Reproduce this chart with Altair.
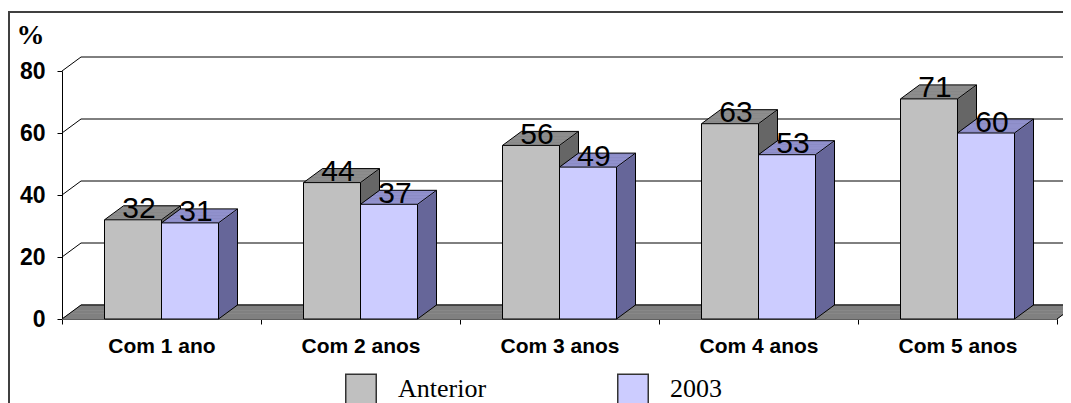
import altair as alt
import pandas as pd

# ---- data ----
categories = ["Com 1 ano", "Com 2 anos", "Com 3 anos", "Com 4 anos", "Com 5 anos"]
series_names = ["Anterior", "2003"]
anterior = [32, 44, 56, 63, 71]
ano_2003 = [31, 37, 49, 53, 60]
y_ticks = [0, 20, 40, 60, 80]

# ---- layout / style ----
W, H = 995, 248
PAD = {"left": 54, "top": 63, "right": 6, "bottom": 84}
BAR_W = 57
DX, DY = 19, 14          # 3-D depth in pixels
N = 19                   # extrusion steps
SX, SY = DX / N, DY / N

front_colors = ["#C0C0C0", "#CCCCFF"]
top_colors = ["#979797", "#9C9CDA"]
side_colors = ["#666666", "#666699"]
shifts = [-BAR_W / 2, BAR_W / 2]
FLOOR = "#808080"

rows = []
for s, vals in zip(series_names, [anterior, ano_2003]):
    for c, v in zip(categories, vals):
        rows.append({"categoria": c, "serie": s, "valor": v})
df = pd.DataFrame(rows)
grid_df = pd.DataFrame({"v": y_ticks})
zero_df = pd.DataFrame({"v": [0]})

y_scale = alt.Scale(domain=[0, 80], nice=False, zero=True)
x_enc = alt.X(
    "categoria:N",
    sort=categories,
    scale=alt.Scale(paddingInner=0, paddingOuter=0),
    axis=alt.Axis(
        title=None, labelAngle=0, tickBand="extent", tickSize=5,
        labelPadding=11, labelFont="Liberation Sans", labelFontWeight="bold",
        labelFontSize=21, labelColor="black", domainColor="black",
        tickColor="black", grid=False,
    ),
)
y_enc = alt.Y(
    "valor:Q",
    scale=y_scale,
    axis=alt.Axis(
        values=y_ticks, title="%", titleAngle=0, titleX=-46, titleY=-28,
        titleAlign="left", titleBaseline="alphabetic",
        titleFont="Liberation Serif", titleFontSize=28, titleFontWeight="bold",
        titleColor="black",
        tickSize=5, labelPadding=12, labelFont="Liberation Sans",
        labelFontWeight="bold", labelFontSize=23, labelColor="black",
        domainColor="black", tickColor="black", grid=False,
    ),
)

RIGHT_EDGE = W + PAD["right"]
BOTTOM_EDGE = H + PAD["bottom"]

layers = []

# outer frame (left and top lines), drawn as thin filled rectangles
layers.append(
    alt.Chart(zero_df).mark_rect(color="#404040").encode(
        x=alt.value(-54), x2=alt.value(-52), y=alt.value(-60), y2=alt.value(BOTTOM_EDGE)
    )
)
layers.append(
    alt.Chart(zero_df).mark_rect(color="#404040").encode(
        x=alt.value(-54), x2=alt.value(RIGHT_EDGE), y=alt.value(-60), y2=alt.value(-58)
    )
)

# floor (extruded strip)
for k in range(0, N + 1):
    layers.append(
        alt.Chart(zero_df).mark_rule(color=FLOOR, strokeWidth=1.4, yOffset=-k * SY).encode(
            x=alt.value(k * SX), x2=alt.value(min(W + k * SX, RIGHT_EDGE)),
            y=alt.Y("v:Q", scale=y_scale),
        )
    )

# back-wall gridlines and side-wall diagonals
layers.append(
    alt.Chart(grid_df).mark_rule(color="black", strokeWidth=1, yOffset=-DY).encode(
        x=alt.value(DX), x2=alt.value(RIGHT_EDGE), y=alt.Y("v:Q", scale=y_scale)
    )
)
layers.append(
    alt.Chart(grid_df).mark_rule(color="black", strokeWidth=1, y2Offset=-DY).encode(
        x=alt.value(0), x2=alt.value(DX), y=alt.Y("v:Q", scale=y_scale), y2=alt.Y2("v")
    )
)
# right end of floor
layers.append(
    alt.Chart(zero_df).mark_rule(color="black", strokeWidth=1, y2Offset=-DY).encode(
        x=alt.value(W), x2=alt.value(W + DX), y=alt.Y("v:Q", scale=y_scale), y2=alt.Y2("v")
    )
)

for i, s in enumerate(series_names):
    base = alt.Chart(df).transform_filter(alt.datum.serie == s)
    sh = shifts[i]
    xl, xr = sh - BAR_W / 2, sh + BAR_W / 2
    # extrusion: back to front
    for k in range(N, 0, -1):
        layers.append(
            base.mark_bar(
                width=BAR_W, xOffset=sh + k * SX, yOffset=-k * SY, y2Offset=-k * SY,
                color=side_colors[i],
            ).encode(x=x_enc, y=y_enc, y2=alt.datum(0))
        )
        layers.append(
            base.mark_bar(
                width=BAR_W, xOffset=sh + k * SX, yOffset=-k * SY,
                y2Offset=-(k - 1) * SY + 0.3, color=top_colors[i],
            ).encode(x=x_enc, y=y_enc, y2=alt.Y2("valor"))
        )
    # front face
    layers.append(
        base.mark_bar(width=BAR_W, xOffset=sh, stroke="black", strokeWidth=1).encode(
            x=x_enc, y=y_enc, y2=alt.datum(0),
            color=alt.Color(
                "serie:N",
                scale=alt.Scale(domain=series_names, range=front_colors),
                legend=alt.Legend(
                    title=None, orient="none", legendX=283, legendY=302,
                    direction="horizontal", columns=2, columnPadding=127,
                    symbolType="square", symbolSize=930, symbolStrokeColor="#333333",
                    symbolStrokeWidth=1.5, labelFont="Liberation Serif",
                    labelFontSize=26, labelColor="black", labelOffset=21, padding=0,
                    labelLimit=300,
                ),
            ),
        )
    )
    # edges of the 3-D box
    edge = dict(color="black", strokeWidth=1)
    layers.append(
        base.mark_rule(xOffset=xl, x2Offset=xl + DX, y2Offset=-DY, **edge).encode(
            x=x_enc, x2=alt.X2("categoria"), y=y_enc, y2=alt.Y2("valor"))
    )
    layers.append(
        base.mark_rule(xOffset=xr, x2Offset=xr + DX, y2Offset=-DY, **edge).encode(
            x=x_enc, x2=alt.X2("categoria"), y=y_enc, y2=alt.Y2("valor"))
    )
    layers.append(
        base.mark_rule(xOffset=xl + DX, x2Offset=xr + DX, yOffset=-DY, y2Offset=-DY, **edge).encode(
            x=x_enc, x2=alt.X2("categoria"), y=y_enc, y2=alt.Y2("valor"))
    )
    layers.append(
        base.mark_rule(xOffset=xr + DX, x2Offset=xr + DX, yOffset=-DY, y2Offset=-DY, **edge).encode(
            x=x_enc, x2=alt.X2("categoria"), y=y_enc, y2=alt.datum(0))
    )
    layers.append(
        base.mark_rule(xOffset=xr, x2Offset=xr + DX, y2Offset=-DY, **edge).encode(
            x=x_enc, x2=alt.X2("categoria"), y=alt.datum(0), y2=alt.datum(0))
    )

# value labels
for i, s in enumerate(series_names):
    base = alt.Chart(df).transform_filter(alt.datum.serie == s)
    layers.append(
        base.mark_text(
            font="Liberation Sans", fontSize=30, color="black", baseline="alphabetic",
            align="center", xOffset=shifts[i] + 6, dy=-1.5,
        ).encode(x=x_enc, y=y_enc, text=alt.Text("valor:Q"))
    )

chart = alt.layer(*layers).properties(
    width=W, height=H,
    padding=PAD,
    autosize=alt.AutoSizeParams(type="none"),
    background="white",
).configure_view(stroke=None)

chart.save("out.html", embed_options={"renderer": "svg", "actions": False})
